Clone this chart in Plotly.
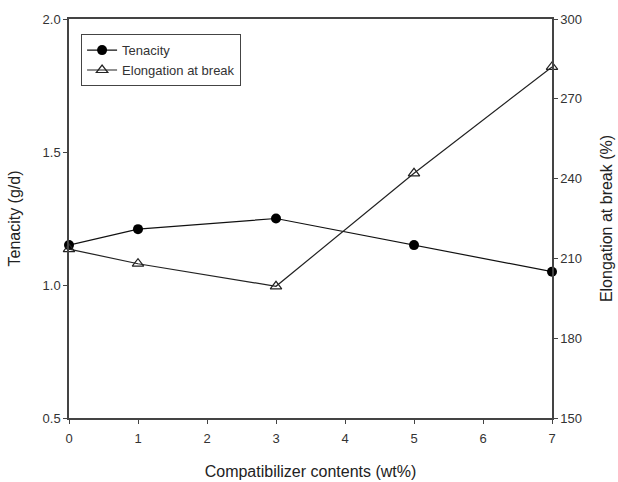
import plotly.graph_objects as go

# Compatibilizer content (wt%)
contents = [0, 1, 3, 5, 7]
# Tenacity (g/d)
tenacity = [1.15, 1.21, 1.25, 1.15, 1.05]
# Elongation at break (%)
elongation = [213.5, 208, 199.5, 242, 282]

axis_color = "#444444"
text_color = "#333333"
font_family = "Liberation Sans, Arial, sans-serif"

fig = go.Figure()

fig.add_trace(go.Scatter(
    x=contents, y=tenacity, name="Tenacity",
    mode="lines+markers", cliponaxis=False,
    line=dict(color="#111111", width=1.2),
    marker=dict(symbol="circle", size=10, color="#000000"),
    yaxis="y",
))

fig.add_trace(go.Scatter(
    x=contents, y=elongation, name="Elongation at break",
    mode="lines+markers", cliponaxis=False,
    line=dict(color="#222222", width=1.2),
    marker=dict(symbol="triangle-up-open", size=10, color="#222222",
                line=dict(width=1.2)),
    yaxis="y2",
))

fig.update_layout(
    width=618, height=482,
    margin=dict(l=69, r=66, t=19, b=64),
    paper_bgcolor="white", plot_bgcolor="white",
    font=dict(family=font_family, color=text_color, size=13),
    showlegend=True,
    legend=dict(
        x=0.025, y=0.962, xanchor="left", yanchor="top",
        bordercolor=axis_color, borderwidth=1, bgcolor="white",
        font=dict(size=13, color=text_color),
        tracegroupgap=0, itemwidth=30,
    ),
    xaxis=dict(
        range=[0, 7], tickvals=list(range(0, 8)),
        showline=True, linecolor=axis_color, linewidth=1.5, mirror=True,
        ticks="outside", ticklen=4, tickcolor=axis_color,
        ticklabelstandoff=4, automargin=False,
        showgrid=False, zeroline=False,
        title=dict(text="Compatibilizer contents (wt%)",
                   font=dict(size=16, color="#222222"), standoff=20),
        tickfont=dict(size=13, color=text_color),
    ),
    yaxis=dict(
        range=[0.5, 2.0], tickvals=[0.5, 1.0, 1.5, 2.0], tickformat=".1f",
        showline=True, linecolor=axis_color, linewidth=1.5,
        ticks="outside", ticklen=4, tickcolor=axis_color,
        showgrid=False, zeroline=False, automargin=False,
        title=dict(text="Tenacity (g/d)",
                   font=dict(size=16, color="#222222"), standoff=18),
        tickfont=dict(size=13, color=text_color),
    ),
    yaxis2=dict(
        range=[150, 300], tickvals=[150, 180, 210, 240, 270, 300],
        overlaying="y", side="right",
        showline=True, linecolor=axis_color, linewidth=1.5,
        ticks="outside", ticklen=4, tickcolor=axis_color,
        showgrid=False, zeroline=False, automargin=False,
        title=dict(text="Elongation at break (%)",
                   font=dict(size=16, color="#222222"), standoff=20),
        tickfont=dict(size=13, color=text_color),
    ),
)

fig.write_html("out.html")
